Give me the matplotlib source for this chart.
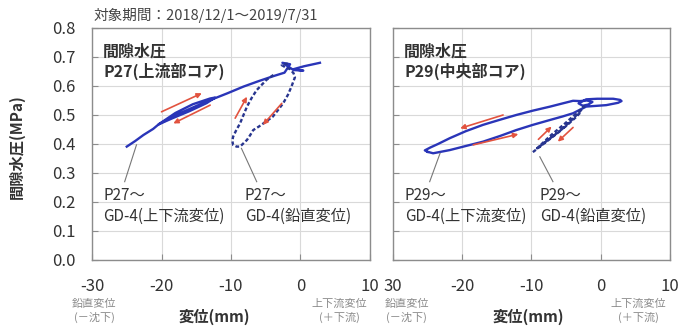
import matplotlib
matplotlib.use('Agg')
import matplotlib.pyplot as plt

plt.rcParams['font.family'] = ['Noto Sans CJK JP', 'DejaVu Sans']

BLUE = '#2a35b8'
NAVY = '#28358f'
RED = '#e2533f'
GRID = '#d9d9d9'
SPINE = '#8c8c8c'

X_TICKS = [-30, -20, -10, 0, 10]
Y_TICKS = [0.0, 0.1, 0.2, 0.3, 0.4, 0.5, 0.6, 0.7, 0.8]
LEFT_XLABELS = ['-30', '-20', '-10', '0', '10']
RIGHT_XLABELS = ['30', '-20', '-10', '0', '10']

# P27 vs GD-4 upstream/downstream displacement
P27_UD_X = [-25.0, -23.8, -22.6, -21.2, -20.4, -18.0, -15.5, -13.0, -12.3,
            -13.5, -16.0, -18.5, -20.4, -18.0, -15.0, -12.5, -10.5, -8.2,
            -6.0, -3.9, -2.3, -1.5, -2.6, -1.0, 0.4, -1.0, 0.5, 2.8]
P27_UD_Y = [0.391, 0.410, 0.431, 0.452, 0.468, 0.507, 0.537, 0.557, 0.560,
            0.541, 0.513, 0.488, 0.468, 0.499, 0.531, 0.556, 0.575, 0.598,
            0.617, 0.634, 0.646, 0.675, 0.680, 0.655, 0.653, 0.658, 0.668, 0.680]

# P27 vs GD-4 vertical displacement
P27_V_X = [-3.9, -4.9, -6.3, -7.0, -7.7, -8.2, -8.7, -9.3, -9.7, -9.8, -9.7, -9.2,
           -8.7, -7.7, -7.2, -6.8, -6.0, -5.4, -4.7, -4.0, -3.3, -2.5, -1.8, -1.3,
           -0.8, -1.0, -1.5, -2.2, -2.7, -2.3, -1.5]
P27_V_Y = [0.638, 0.621, 0.586, 0.560, 0.529, 0.500, 0.471, 0.445, 0.425, 0.410,
           0.397, 0.391, 0.391, 0.414, 0.432, 0.448, 0.460, 0.470, 0.482, 0.494,
           0.515, 0.540, 0.570, 0.598, 0.630, 0.644, 0.658, 0.665, 0.672, 0.676,
           0.678]

# P29 vs GD-4 upstream/downstream displacement
P29_UD_X = [-25.0, -24.2, -21.8, -19.5, -17.0, -14.5, -12.2, -9.8, -7.3, -5.5, -4.0,
            -2.1, 0.8, 2.5, 3.0, 2.8, 1.8, -0.5, -2.1, -3.2, -2.6, -1.8, -1.2,
            -2.0, -3.0, -4.0, -5.5, -7.3, -9.8, -12.2, -14.5, -17.0, -19.5, -21.8,
            -23.5, -24.6, -25.4, -25.0]
P29_UD_Y = [0.373, 0.368, 0.379, 0.393, 0.408, 0.428, 0.448, 0.466, 0.483, 0.495,
            0.506, 0.529, 0.534, 0.542, 0.548, 0.552, 0.556, 0.556, 0.554, 0.540,
            0.532, 0.536, 0.545, 0.550, 0.548, 0.549, 0.540, 0.529, 0.515, 0.500,
            0.484, 0.466, 0.444, 0.420, 0.400, 0.388, 0.378, 0.373]

# P29 vs GD-4 vertical displacement
P29_V_X = [-9.8, -8.0, -6.0, -4.3, -3.0, -2.4, -3.4, -5.2, -7.2, -9.2, -8.8, -7.0,
           -5.0, -3.6, -2.8]
P29_V_Y = [0.372, 0.405, 0.442, 0.480, 0.512, 0.530, 0.508, 0.470, 0.430, 0.385,
           0.392, 0.425, 0.462, 0.492, 0.512]

# direction arrows: (x0, y0, x1, y1)
P27_ARROWS = [(-20.0, 0.511, -14.2, 0.575), (-13.0, 0.534, -18.3, 0.471),
              (-9.4, 0.489, -7.7, 0.563), (-2.7, 0.540, -5.4, 0.466)]
P29_ARROWS = [(-14.1, 0.500, -20.3, 0.454), (-18.4, 0.397, -11.9, 0.434),
              (-9.0, 0.416, -7.1, 0.460), (-4.0, 0.457, -6.2, 0.408)]

# leader lines: (x0, y0, x1, y1)
P27_LEADERS = [(-23.6, 0.397, -25.3, 0.27), (-8.5, 0.385, -6.3, 0.27)]
P29_LEADERS = [(-23.2, 0.368, -24.7, 0.27), (-8.8, 0.356, -6.9, 0.27)]

P27_LABELS = ['P27～\nGD-4(上下流変位)', 'P27～\nGD-4(鉛直変位)']
P29_LABELS = ['P29～\nGD-4(上下流変位)', 'P29～\nGD-4(鉛直変位)']
P27_LABEL_X = [-28.4, -8.0]
P29_LABEL_X = [-28.3, -8.8]


def setup_axes(ax, xlabels, show_y, xlabel_pos, note_pos):
    ax.set_xlim(-30, 10)
    ax.set_ylim(0, 0.8)
    ax.set_xticks(X_TICKS)
    ax.set_xticklabels(xlabels)
    ax.set_yticks(Y_TICKS)
    if show_y:
        ax.set_yticklabels(['%.1f' % v for v in Y_TICKS])
    else:
        ax.set_yticklabels([])
    ax.grid(True, color=GRID, linewidth=0.8)
    ax.set_axisbelow(True)
    for sp in ax.spines.values():
        sp.set_color(SPINE)
        sp.set_linewidth(1.0)
    ax.tick_params(direction='in', length=4, color=SPINE, labelsize=12,
                   labelcolor='#333333')
    ax.tick_params(axis='x', pad=13)
    ax.tick_params(axis='y', pad=12)
    ax.text(xlabel_pos, -0.245, '変位(mm)', transform=ax.transAxes,
            ha='center', va='center', fontsize=11, fontweight='bold',
            color='#333333')
    ax.text(note_pos[0], -0.218, '鉛直変位\n(－沈下)', transform=ax.transAxes,
            ha='center', va='center', fontsize=8, color='#8a8a8a',
            linespacing=1.35)
    ax.text(note_pos[1], -0.218, '上下流変位\n(＋下流)', transform=ax.transAxes,
            ha='center', va='center', fontsize=8, color='#8a8a8a',
            linespacing=1.35)


def draw_panel(ax, title, ud, vert, arrows, leaders, labels, label_x):
    ax.plot(ud[0], ud[1], color=BLUE, linewidth=1.7, solid_joinstyle='round')
    ax.plot(vert[0], vert[1], color=NAVY, linewidth=1.7, linestyle=(0, (1.6, 1.0)))
    for x0, y0, x1, y1 in arrows:
        ax.annotate('', xy=(x1, y1), xytext=(x0, y0),
                    arrowprops=dict(arrowstyle='-|>', color=RED, lw=1.2,
                                    mutation_scale=7, shrinkA=0, shrinkB=0))
    for x0, y0, x1, y1 in leaders:
        ax.plot([x0, x1], [y0, y1], color='#777777', linewidth=0.8)
    for lab, lx in zip(labels, label_x):
        ax.text(lx, 0.252, lab, ha='left', va='top', fontsize=11,
                color='#333333', linespacing=1.3)
    ax.text(-28.4, 0.745, title, ha='left', va='top', fontsize=11.5,
            fontweight='bold', color='#333333', linespacing=1.2)


fig = plt.figure(figsize=(6.8, 3.27), dpi=100)
ax1 = fig.add_axes([0.1353, 0.2049, 0.4088, 0.7095])
ax2 = fig.add_axes([0.5779, 0.2049, 0.4074, 0.7095])

setup_axes(ax1, LEFT_XLABELS, True, 0.44, (0.008, 0.89))
setup_axes(ax2, RIGHT_XLABELS, False, 0.487, (0.05, 0.885))

draw_panel(ax1, '間隙水圧\nP27(上流部コア)', (P27_UD_X, P27_UD_Y),
           (P27_V_X, P27_V_Y), P27_ARROWS, P27_LEADERS, P27_LABELS, P27_LABEL_X)
draw_panel(ax2, '間隙水圧\nP29(中央部コア)', (P29_UD_X, P29_UD_Y),
           (P29_V_X, P29_V_Y), P29_ARROWS, P29_LEADERS, P29_LABELS, P29_LABEL_X)

ax1.set_ylabel('間隙水圧(MPa)', fontsize=11, fontweight='bold', color='#333333')
ax1.yaxis.set_label_coords(-0.24, 0.49)
fig.text(0.138, 0.952, '対象期間：2018/12/1～2019/7/31', ha='left',
         va='center', fontsize=10.5, color='#444444')

fig.savefig('out.png', dpi=100)
